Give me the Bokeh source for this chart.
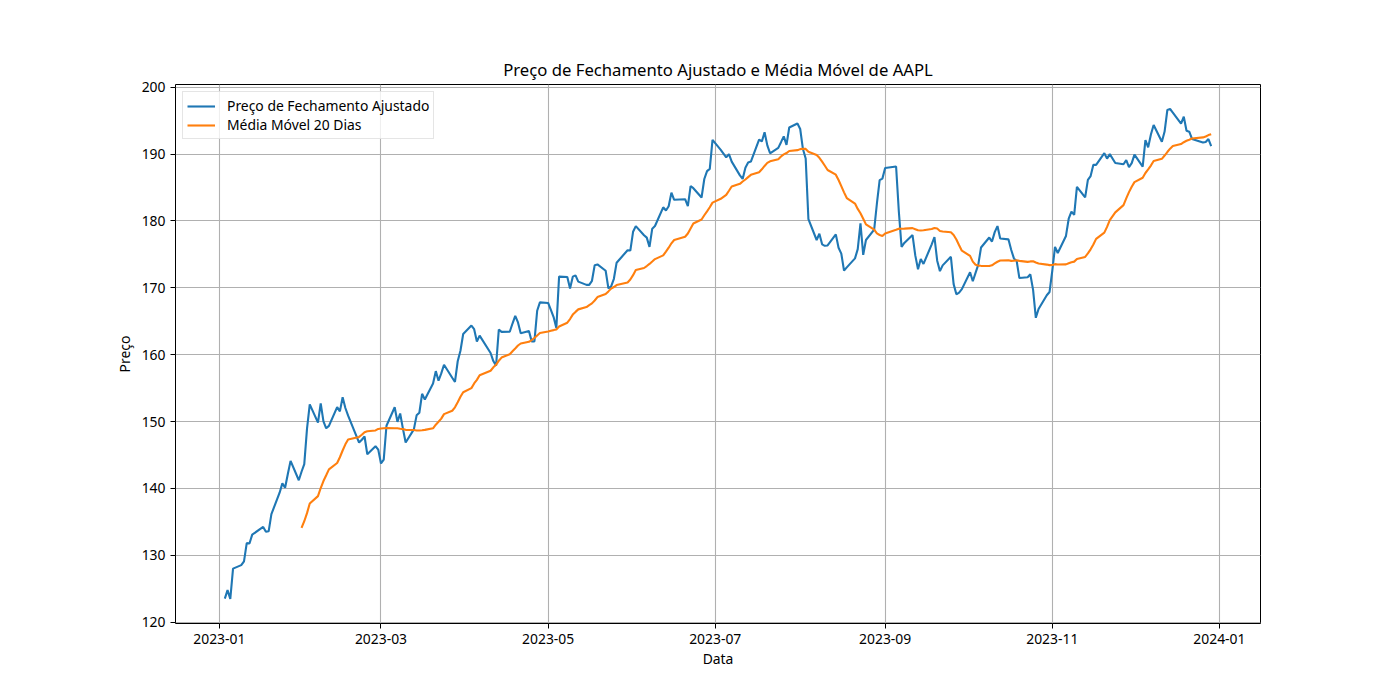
import numpy as np
import pandas as pd
from bokeh.plotting import figure
from bokeh.models import FixedTicker, Range1d, Legend, LegendItem, ColumnDataSource
from bokeh.embed import file_html
from bokeh.resources import INLINE

title_text = "Preço de Fechamento Ajustado e Média Móvel de AAPL"
x_label = "Data"
y_label = "Preço"
series_names = ["Preço de Fechamento Ajustado", "Média Móvel 20 Dias"]
x_tick_labels = ["2023-01", "2023-03", "2023-05", "2023-07", "2023-09", "2023-11", "2024-01"]
y_ticks = [120, 130, 140, 150, 160, 170, 180, 190, 200]
window = 20

# trading days of 2023, by month
days_by_month = [
    [3, 4, 5, 6, 9, 10, 11, 12, 13, 17, 18, 19, 20, 23, 24, 25, 26, 27, 30, 31],
    [1, 2, 3, 6, 7, 8, 9, 10, 13, 14, 15, 16, 17, 21, 22, 23, 24, 27, 28],
    [1, 2, 3, 6, 7, 8, 9, 10, 13, 14, 15, 16, 17, 20, 21, 22, 23, 24, 27, 28, 29, 30, 31],
    [3, 4, 5, 6, 10, 11, 12, 13, 14, 17, 18, 19, 20, 21, 24, 25, 26, 27, 28],
    [1, 2, 3, 4, 5, 8, 9, 10, 11, 12, 15, 16, 17, 18, 19, 22, 23, 24, 25, 26, 30, 31],
    [1, 2, 5, 6, 7, 8, 9, 12, 13, 14, 15, 16, 20, 21, 22, 23, 26, 27, 28, 29, 30],
    [3, 5, 6, 7, 10, 11, 12, 13, 14, 17, 18, 19, 20, 21, 24, 25, 26, 27, 28, 31],
    [1, 2, 3, 4, 7, 8, 9, 10, 11, 14, 15, 16, 17, 18, 21, 22, 23, 24, 25, 28, 29, 30, 31],
    [1, 5, 6, 7, 8, 11, 12, 13, 14, 15, 18, 19, 20, 21, 22, 25, 26, 27, 28, 29],
    [2, 3, 4, 5, 6, 9, 10, 11, 12, 13, 16, 17, 18, 19, 20, 23, 24, 25, 26, 27, 30, 31],
    [1, 2, 3, 6, 7, 8, 9, 10, 13, 14, 15, 16, 17, 20, 21, 22, 24, 27, 28, 29, 30],
    [1, 4, 5, 6, 7, 8, 11, 12, 13, 14, 15, 18, 19, 20, 21, 22, 26, 27, 28, 29],
]

adj_close = [
    # Jan
    123.52, 124.79, 123.47, 128.01, 128.54, 129.11, 131.83, 131.76, 133.09, 134.25,
    133.53, 133.59, 136.16, 139.36, 140.76, 140.10, 142.17, 144.12, 141.23, 142.50,
    # Feb
    143.63, 148.95, 152.58, 149.85, 152.73, 150.04, 149.00, 149.36, 152.17, 151.53,
    153.63, 152.03, 150.89, 146.86, 147.29, 147.77, 145.11, 146.31, 145.80,
    # Mar
    143.73, 144.32, 149.38, 152.15, 149.95, 151.20, 148.95, 146.88, 148.83, 150.93,
    151.32, 154.15, 153.31, 155.68, 157.54, 156.11, 157.20, 158.50, 156.55, 155.93,
    159.02, 160.59, 163.10,
    # Apr
    164.36, 163.82, 161.98, 162.86, 160.26, 159.05, 158.35, 163.76, 163.41, 163.43,
    164.66, 165.80, 164.83, 163.22, 163.53, 161.99, 161.98, 166.57, 167.83,
    # May
    167.74, 166.70, 165.62, 163.98, 171.68, 171.61, 169.90, 171.67, 171.86, 170.93,
    170.44, 170.44, 171.05, 173.39, 173.50, 172.55, 169.93, 170.21, 171.35, 173.76,
    175.62, 175.57,
    # Jun
    178.38, 179.23, 177.87, 177.51, 176.13, 178.85, 179.24, 182.04, 181.57, 182.20,
    184.24, 183.16, 183.25, 182.21, 185.22, 184.90, 183.51, 186.27, 187.45, 187.79,
    192.13,
    # Jul
    190.63, 189.51, 189.99, 188.87, 186.82, 186.29, 187.97, 188.73, 188.88, 192.15,
    191.89, 193.25, 191.30, 190.12, 190.93, 191.78, 192.65, 191.38, 193.97, 194.58,
    # Aug
    193.75, 190.75, 189.35, 180.26, 177.15, 178.09, 176.50, 176.28, 176.33, 177.99,
    175.99, 175.12, 172.57, 173.06, 174.40, 175.78, 179.63, 174.93, 177.15, 178.71,
    182.61, 186.11, 186.33,
    # Sep
    187.91, 188.15, 181.41, 176.10, 176.72, 177.89, 174.85, 172.78, 174.30, 173.57,
    176.51, 177.60, 174.05, 172.50, 173.36, 174.64, 170.55, 169.03, 169.29, 169.80,
    # Oct
    172.33, 170.99, 172.24, 173.48, 176.03, 177.52, 176.92, 178.33, 179.23, 177.38,
    177.25, 175.70, 174.40, 174.02, 171.46, 171.58, 172.02, 169.70, 165.52, 166.84,
    168.89, 169.37,
    # Nov
    172.54, 176.11, 175.20, 177.76, 180.33, 181.39, 180.91, 185.11, 183.52, 186.15,
    186.71, 188.40, 188.38, 190.13, 189.32, 189.99, 188.66, 188.48, 189.09, 188.06,
    188.64,
    # Dec
    189.92, 188.12, 192.09, 191.00, 192.93, 194.36, 191.85, 193.37, 196.59, 196.74,
    196.21, 194.54, 195.58, 193.49, 193.34, 192.26, 191.72, 191.82, 192.25, 191.20,
]

dates = [pd.Timestamp(2023, m + 1, d) for m, days in enumerate(days_by_month) for d in days]
assert len(dates) == len(adj_close)


def to_ms(ts):
    return ts.value / 1e6


x_ms = np.array([to_ms(d) for d in dates])
price = pd.Series(adj_close, dtype=float)
ma = price.rolling(window).mean()

src_price = ColumnDataSource(dict(x=x_ms, y=price.values))
src_ma = ColumnDataSource(dict(x=x_ms[window - 1:], y=ma.values[window - 1:]))

FONT = "Noto Sans"

x_span = x_ms[-1] - x_ms[0]
y_min, y_max = float(price.min()), float(price.max())
y_span = y_max - y_min

p = figure(
    frame_width=1085, frame_height=539,
    min_border_left=175, min_border_right=124, min_border_top=84, min_border_bottom=61,
    output_backend="svg", toolbar_location=None,
    x_range=Range1d(x_ms[0] - 0.05 * x_span, x_ms[-1] + 0.05 * x_span),
    y_range=Range1d(y_min - 0.05 * y_span, y_max + 0.05 * y_span),
    title=title_text,
)
p.background_fill_color = "white"
p.border_fill_color = "white"
p.outline_line_color = "black"
p.outline_line_width = 1

p.title.align = "center"
p.title.text_font = FONT
p.title.text_font_size = "16.7px"
p.title.text_font_style = "normal"
p.title.text_color = "black"
p.title.standoff = 7

l1 = p.line("x", "y", source=src_price, line_color="#1f77b4", line_width=2.1)
l2 = p.line("x", "y", source=src_ma, line_color="#ff7f0e", line_width=2.1)

x_ticks = [to_ms(pd.Timestamp(lbl + "-01")) for lbl in x_tick_labels]
p.xaxis.ticker = FixedTicker(ticks=x_ticks)
p.xaxis.major_label_overrides = {t: lbl for t, lbl in zip(x_ticks, x_tick_labels)}
p.yaxis.ticker = FixedTicker(ticks=y_ticks)

for ax in (p.xaxis, p.yaxis):
    ax.axis_line_color = None
    ax.major_tick_line_color = "black"
    ax.major_tick_out = 5
    ax.major_tick_in = 0
    ax.minor_tick_line_color = None
    ax.major_label_text_font = FONT
    ax.major_label_text_font_size = "13.9px"
    ax.major_label_text_color = "black"
    ax.major_label_standoff = 5
    ax.axis_label_text_font = FONT
    ax.axis_label_text_font_size = "13.9px"
    ax.axis_label_text_font_style = "normal"
    ax.axis_label_text_color = "black"

p.xaxis.axis_label_standoff = 2
p.yaxis.axis_label_standoff = 5
p.xaxis.axis_label = x_label
p.yaxis.axis_label = y_label

for g in (p.xgrid, p.ygrid):
    g.grid_line_color = "#b0b0b0"
    g.grid_line_width = 1.1
p.xgrid.ticker = FixedTicker(ticks=x_ticks)
p.ygrid.ticker = FixedTicker(ticks=y_ticks)

legend = Legend(
    items=[LegendItem(label=series_names[0], renderers=[l1]),
           LegendItem(label=series_names[1], renderers=[l2])],
    location="top_left",
    margin=7, padding=4, spacing=0,
    label_text_font=FONT, label_text_font_size="13.9px", label_text_color="black",
    glyph_width=28, glyph_height=16, label_height=16, label_standoff=12,
    border_line_color="#cccccc", border_line_width=1,
    background_fill_color="white", background_fill_alpha=0.8,
)
p.add_layout(legend)

open("out.html", "w").write(file_html(p, INLINE))
